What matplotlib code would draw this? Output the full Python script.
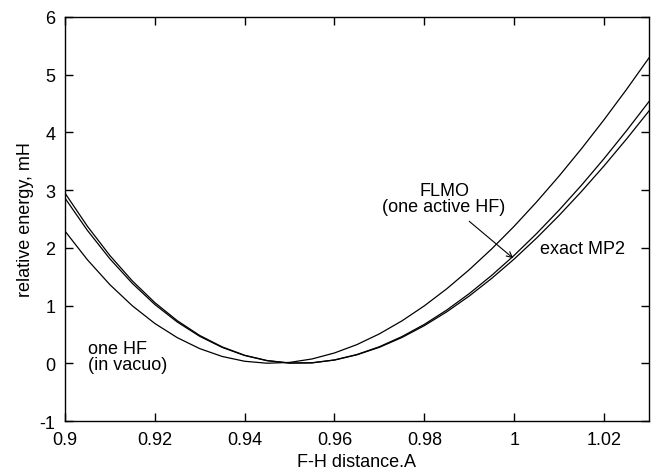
import numpy as np
import matplotlib
matplotlib.use("Agg")
import matplotlib.pyplot as plt

plt.rcParams['font.family'] = ['Liberation Sans', 'DejaVu Sans']
plt.rcParams['axes.unicode_minus'] = False

# F-H distance grid (A) and relative energies (mH)
dist = [0.900, 0.905, 0.910, 0.915, 0.920, 0.925, 0.930, 0.935, 0.940,
        0.945, 0.950, 0.955, 0.960, 0.965, 0.970, 0.975, 0.980, 0.985,
        0.990, 0.995, 1.000, 1.005, 1.010, 1.015, 1.020, 1.025, 1.030]

# one HF (in vacuo)
e_vacuo = [2.291, 1.793, 1.362, 0.996, 0.690, 0.444, 0.254, 0.118, 0.035,
           0.001, 0.015, 0.075, 0.179, 0.324, 0.510, 0.734, 0.995, 1.291,
           1.621, 1.982, 2.374, 2.796, 3.244, 3.719, 4.219, 4.743, 5.290]

# FLMO (one active HF)
e_flmo = [2.949, 2.373, 1.867, 1.427, 1.052, 0.738, 0.482, 0.284, 0.139,
          0.047, 0.004, 0.008, 0.058, 0.152, 0.287, 0.462, 0.674, 0.923,
          1.207, 1.523, 1.870, 2.248, 2.654, 3.086, 3.545, 4.028, 4.533]

# exact MP2
e_mp2 = [2.862, 2.302, 1.810, 1.384, 1.019, 0.715, 0.467, 0.275, 0.135,
         0.045, 0.004, 0.008, 0.056, 0.147, 0.277, 0.446, 0.652, 0.892,
         1.165, 1.471, 1.806, 2.170, 2.561, 2.978, 3.419, 3.884, 4.370]

xticks = [0.9, 0.92, 0.94, 0.96, 0.98, 1.0, 1.02]
xticklabels = ["0.9", "0.92", "0.94", "0.96", "0.98", "1", "1.02"]
yticks = [-1, 0, 1, 2, 3, 4, 5, 6]

fig = plt.figure(figsize=(6.51, 4.77), dpi=100)
ax = fig.add_axes([0.0998, 0.1153, 0.8970, 0.8470])

for e in (e_vacuo, e_flmo, e_mp2):
    ax.plot(dist, e, color="black", lw=0.9)

ax.set_xlim(0.9, 1.03)
ax.set_ylim(-1, 6)
ax.set_xticks(xticks)
ax.set_xticklabels(xticklabels)
ax.set_yticks(yticks)
ax.tick_params(direction="in", length=6, width=1, top=True, right=True,
               labelsize=13, pad=7)
for s in ax.spines.values():
    s.set_linewidth(1)

ax.set_xlabel("F-H distance.A", fontsize=13, labelpad=4)
ax.set_ylabel("relative energy, mH", fontsize=13, labelpad=4)

# annotations
ax.text(0.9844, 2.86, "FLMO\n(one active HF)", ha="center", va="center",
        multialignment="center", fontsize=13, linespacing=0.95)
ax.annotate("", xy=(0.99978, 1.82), xytext=(0.99, 2.46),
            arrowprops=dict(arrowstyle="->", lw=0.8, color="black",
                            shrinkA=0, shrinkB=0))
ax.text(1.0058, 1.99, "exact MP2", ha="left", va="center", fontsize=13)
ax.text(0.9051, 0.12, "one HF\n(in vacuo)", ha="left", va="center",
        fontsize=13, linespacing=0.95)

fig.savefig("out.png", dpi=100)
